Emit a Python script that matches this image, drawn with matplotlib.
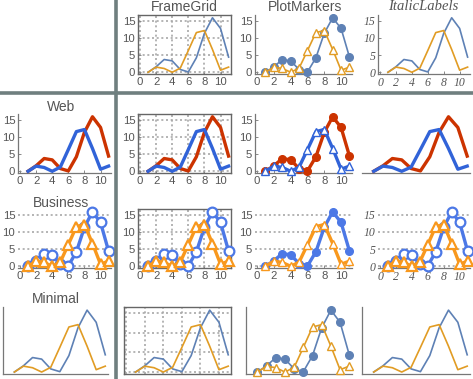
import matplotlib
matplotlib.use('Agg')
import matplotlib.pyplot as plt
from matplotlib.lines import Line2D

W, H = 473, 379
x = [1, 2, 3, 4, 5, 6, 7, 8, 9, 10, 11]
series_a = [0, 1.6, 3.7, 3.3, 0.8, 0.1, 4.2, 11.3, 15.8, 12.7, 4.4]
series_b = [0, 1.5, 1.1, 0, 1.2, 6.3, 11.5, 12.1, 6.6, 0.6, 1.5]
col_themes = ["FrameGrid", "PlotMarkers", "ItalicLabels"]
row_themes = ["Web", "Business", "Minimal"]
xticks = [0, 2, 4, 6, 8, 10]
yticks = [0, 5, 10, 15]

fig = plt.figure(figsize=(W / 100, H / 100), dpi=100)


def add_ax(l, t, r, b):
    return fig.add_axes([l / W, 1 - b / H, (r - l) / W, (b - t) / H])


COL_X_LAB = [(18, 111), (138, 231), (255, 352), (378, 470)]
COL_X_MIN = [(3, 108), (124, 231), (246, 352), (362, 470)]
ROW_Y = [(15, 74), (114, 173), (209, 268), (307, 374)]

DEF1, DEF2 = '#5E81B5', '#E19C24'
WEB1, WEB2 = '#CC3300', '#3163D8'
BIZ1, BIZ2 = '#4C78E6', '#F8981D'
GRIDC = '#a8a8a8'
TXT = '#555555'


def draw(ax, row, col):
    if row == "Web":
        c1, c2, lw = WEB1, WEB2, 2.4
    elif row == "Business":
        c1, c2, lw = BIZ1, BIZ2, 2.4
    else:
        c1, c2, lw = DEF1, DEF2, 1.2

    m1 = dict()
    m2 = dict()
    if col == "PlotMarkers":
        m1 = dict(marker='o', markersize=5.5, markerfacecolor=c1, markeredgecolor=c1)
        m2 = dict(marker='^', markersize=6, markerfacecolor='white', markeredgecolor=c2, markeredgewidth=1.0)
    elif row == "Business":
        m1 = dict(marker='o', markersize=7, markerfacecolor='white', markeredgecolor=c1, markeredgewidth=1.6)
        m2 = dict(marker='^', markersize=7.5, markerfacecolor='white', markeredgecolor=c2, markeredgewidth=1.6)

    ax.plot(x, series_a, color=c1, lw=lw, clip_on=False, zorder=3, **m1)
    ax.plot(x, series_b, color=c2, lw=lw, clip_on=False, zorder=3, **m2)
    ax.set_xlim(-0.25, 11.3)
    ax.set_ylim(-0.5, 16.6)
    ax.set_xticks(xticks)
    ax.set_yticks(yticks)

    labels = not (row == "Minimal" or (row == "Web" and col == "ItalicLabels"))
    grid_kw = dict(color=GRIDC, lw=1.2, linestyle=(0, (1.2, 1.6)))

    for s in ax.spines.values():
        s.set_color('#777777')
        s.set_linewidth(0.9)

    if col == "FrameGrid":
        for s in ax.spines.values():
            s.set_visible(True)
            s.set_color('#666666')
            s.set_linewidth(1.0)
        ax.grid(True, axis='both', **grid_kw)
    else:
        ax.spines['top'].set_visible(False)
        ax.spines['right'].set_visible(False)
        if row == "Business":
            ax.grid(True, axis='y', **grid_kw)
            ax.spines['left'].set_visible(col == "PlotMarkers" and False)
        if row == "Web" and col == "ItalicLabels":
            ax.spines['left'].set_visible(False)
    ax.set_axisbelow(True)

    if labels:
        if col == "ItalicLabels":
            fp = dict(family='Liberation Serif', style='italic', size=8.5)
        else:
            fp = dict(family='Liberation Sans', size=8.2)
        ax.tick_params(axis='both', direction='in', length=2, width=0.7,
                       colors='#888888', labelcolor=TXT, pad=2)
        for lab in ax.get_xticklabels() + ax.get_yticklabels():
            lab.set_fontfamily(fp['family'])
            lab.set_fontsize(fp['size'])
            if 'style' in fp:
                lab.set_fontstyle('italic')
        if row == "Business" and col != "FrameGrid":
            ax.tick_params(axis='y', length=0)
    else:
        ax.set_xticklabels([])
        ax.set_yticklabels([])
        ax.tick_params(axis='both', length=0)
    ax.set_facecolor('none')


rows = [None] + row_themes
cols = [None] + col_themes
for ri, row in enumerate(rows):
    for ci, col in enumerate(cols):
        if row is None and col is None:
            continue
        no_lab = (row == "Minimal") or (row == "Web" and col == "ItalicLabels")
        xl, xr = (COL_X_MIN if no_lab else COL_X_LAB)[ci]
        yt, yb = ROW_Y[ri]
        ax = add_ax(xl, yt, xr, yb)
        draw(ax, row, col)

# Column titles
col_centers = [184, 305, 423]
for name, cx in zip(col_themes, col_centers):
    if name == "ItalicLabels":
        fig.text(cx / W, 1 - 7 / H, name, ha='center', va='center', color=TXT,
                 family='Liberation Serif', style='italic', fontsize=10.5)
    else:
        fig.text(cx / W, 1 - 7 / H, name, ha='center', va='center', color=TXT,
                 family='Liberation Sans', fontsize=10)

row_pos = [(61, 107), (61, 203), (56, 299)]
for name, (cx, cy) in zip(row_themes, row_pos):
    fig.text(cx / W, 1 - cy / H, name, ha='center', va='center', color=TXT,
             family='Liberation Sans', fontsize=10)

# Separator lines
sep = '#6f7f7f'
fig.add_artist(Line2D([115.5 / W, 115.5 / W], [0, 1], color=sep, lw=2.6,
                      transform=fig.transFigure))
fig.add_artist(Line2D([0, 1], [1 - 93 / H, 1 - 93 / H], color=sep, lw=2.6,
                      transform=fig.transFigure))

fig.savefig('out.png', dpi=100)
